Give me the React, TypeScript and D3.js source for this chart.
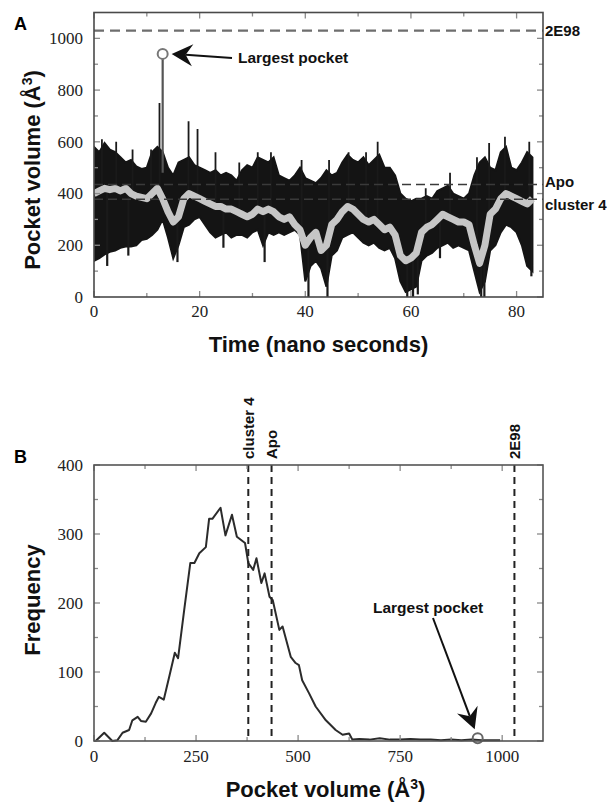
import React from 'react';
import * as d3 from 'd3';

// ---------- Panel A data (pocket volume vs time) ----------
const timeNs = [0,1,2,3,4,5,6,7,8,9,10,11,12,13,14,15,16,17,18,19,20,21,22,23,24,25,26,27,28,29,30,31,32,33,34,35,36,37,38,39,40,41,42,43,44,45,46,47,48,49,50,51,52,53,54,55,56,57,58,59,60,61,62,63,64,65,66,67,68,69,70,71,72,73,74,75,76,77,78,79,80,81,82,83];
const volHigh = [580,560,595,570,560,540,520,530,505,495,500,560,580,560,500,470,520,530,540,510,500,490,480,490,470,480,470,450,490,510,500,540,530,520,540,470,460,450,470,500,460,450,440,460,490,470,480,520,550,530,520,540,510,530,550,500,500,470,400,380,370,380,380,390,380,410,420,430,400,390,380,400,470,520,540,500,490,560,580,500,490,520,560,540];
const volLow = [140,150,165,175,180,190,195,195,200,220,225,240,260,300,230,150,200,270,280,300,310,280,250,230,240,250,230,240,240,230,250,260,200,250,240,250,240,250,260,240,60,120,140,110,40,160,180,230,240,250,230,210,200,210,190,180,190,150,60,20,30,40,140,160,170,190,200,210,190,200,190,180,100,20,60,180,200,250,280,270,250,200,120,100];
const volSmooth = [400,410,420,415,420,410,420,400,390,385,380,400,420,380,330,290,310,380,400,390,380,370,360,350,350,340,340,330,320,310,320,340,330,340,330,310,300,310,280,260,200,230,250,180,200,280,300,330,350,340,320,300,290,300,280,260,270,240,160,140,150,170,250,270,280,300,320,310,300,290,290,280,200,130,200,320,340,380,400,390,380,370,360,380];
const spikeUpT = [1.5,4.2,7.3,10.8,12.4,17.9,19.6,23.0,27.5,31.0,33.5,39.3,44.5,48.2,51.5,53.7,62.8,67.4,72.5,74.8,77.8,82.4];
const spikeUpV = [610,600,570,570,750,680,650,560,520,560,560,530,530,560,560,600,420,480,540,595,620,600];
const spikeDownT = [2.5,6.5,15.8,24.5,32.3,40.6,44.2,59.3,60.4,61.3,65.5,73.3,73.9,82.8];
const spikeDownV = [120,160,135,190,135,0,0,0,0,10,150,0,0,80];
const largestT = 13.0;
const largestVol = 940;

// reference pocket volumes
const refNames = ['2E98', 'Apo', 'cluster 4'];
const refVols = [1030, 435, 378];

// ---------- Panel B data (histogram of pocket volume) ----------
const histVol = [0,4,25,45,57,70,86,94,107,115,127,140,151,159,171,185,198,206,221,236,246,258,274,282,290,310,322,338,350,370,378,390,398,410,418,430,438,454,462,482,494,502,510,527,543,568,592,609,625,633,650,675,700,725,750,775,800,825,850,875,900,925,950,975,995];
const histFreq = [0,0,12,0,1,12,16,30,35,29,28,40,55,64,60,95,128,120,190,258,258,272,281,322,322,338,298,328,296,287,258,248,265,229,243,209,204,161,166,122,113,110,88,69,50,30,16,9,11,2,3,2,4,2,2,3,2,2,1,2,1,2,1,1,1];
const largestFreq = 4;

// ticks
const aXMajor = [0,20,40,60,80];
const aXMinor = [10,30,50,70];
const aYMajor = [0,200,400,600,800,1000];
const aYMinor = [100,300,500,700,900];
const bXMajor = [0,250,500,750,1000];
const bXMinor = [125,375,625,875];
const bYMajor = [0,100,200,300,400];
const bYMinor = [50,150,250,350];

const SANS = '"Liberation Sans", Arial, Helvetica, sans-serif';
const SERIF = '"Liberation Serif", "Times New Roman", serif';

const L = 94, R = 543;
const xA = d3.scaleLinear().domain([0, 85]).range([L, R]);
const yA = d3.scaleLinear().domain([0, 1100]).range([297, 12.5]);
const xB = d3.scaleLinear().domain([0, 1100]).range([L, R]);
const yB = d3.scaleLinear().domain([0, 400]).range([741, 465]);

function Ticks({ xs, ys, xMaj, xMin, yMaj, yMin }: any) {
  const [x0, x1] = xs.range();
  const [y0, y1] = ys.range();
  const col = '#8a8a8a';
  const out: any[] = [];
  const add = (arr: number[], len: number, key: string) => {
    arr.forEach((v, i) => {
      const px = xs(v);
      out.push(<line key={key + 'b' + i} x1={px} x2={px} y1={y0} y2={y0 - len} stroke={col} strokeWidth={1.3} />);
      out.push(<line key={key + 't' + i} x1={px} x2={px} y1={y1} y2={y1 + len} stroke={col} strokeWidth={1.3} />);
    });
  };
  const addY = (arr: number[], len: number, key: string) => {
    arr.forEach((v, i) => {
      const py = ys(v);
      out.push(<line key={key + 'l' + i} x1={x0} x2={x0 + len} y1={py} y2={py} stroke={col} strokeWidth={1.3} />);
      out.push(<line key={key + 'r' + i} x1={x1} x2={x1 - len} y1={py} y2={py} stroke={col} strokeWidth={1.3} />);
    });
  };
  add(xMaj, 6, 'xM');
  add(xMin, 4, 'xm');
  addY(yMaj, 6, 'yM');
  addY(yMin, 4, 'ym');
  return <g>{out}</g>;
}

function Arrow({ x1, y1, x2, y2 }: { x1: number; y1: number; x2: number; y2: number }) {
  const dx = x2 - x1, dy = y2 - y1;
  const len = Math.hypot(dx, dy);
  const ux = dx / len, uy = dy / len;
  const headL = 21, headW = 11, notch = 7;
  const bx = x2 - ux * headL, by = y2 - uy * headL;
  const nx = -uy, ny = ux;
  const cx = x2 - ux * (headL - notch), cy = y2 - uy * (headL - notch);
  const head = `M${x2},${y2} L${bx + nx * headW},${by + ny * headW} L${cx},${cy} L${bx - nx * headW},${by - ny * headW} Z`;
  return (
    <g>
      <line x1={x1} y1={y1} x2={cx} y2={cy} stroke="#111" strokeWidth={2} />
      <path d={head} fill="#111" />
    </g>
  );
}

export default function App() {
  const idx = timeNs.map((_, i) => i);
  const band = d3.area<number>()
    .x(i => xA(timeNs[i]))
    .y0(i => yA(volLow[i]))
    .y1(i => yA(volHigh[i]))
    .curve(d3.curveLinear)(idx) as string;
  const smooth = d3.line<number>()
    .x(i => xA(timeNs[i]))
    .y(i => yA(volSmooth[i]))
    .curve(d3.curveLinear)(idx) as string;
  const smoothAt = (t: number) => volSmooth[Math.min(volSmooth.length - 1, Math.floor(t))];

  const histLine = d3.line<number>()
    .x(i => xB(histVol[i]))
    .y(i => yB(histFreq[i]))(histVol.map((_, i) => i)) as string;

  const cAx = xA(largestT), cAy = yA(largestVol);
  const cBx = xB(largestVol), cBy = yB(largestFreq);

  return (
    <svg width={613} height={802} style={{ position: 'absolute', left: 0, top: 0, background: '#fff' }}>
      <rect x={0} y={0} width={613} height={802} fill="#fff" />

      {/* ================= Panel A ================= */}
      <text x={14} y={30} fontFamily={SANS} fontWeight="bold" fontSize={18}>A</text>
      <defs>
        <clipPath id="clipA"><rect x={L} y={12.5} width={R - L} height={297 - 12.5} /></clipPath>
      </defs>
      <g clipPath="url(#clipA)">
        <path d={band} fill="#141414" stroke="#141414" strokeWidth={2} strokeLinejoin="miter" />
        {spikeUpT.map((t, i) => (
          <line key={'su' + i} x1={xA(t)} x2={xA(t)} y1={yA(smoothAt(t))} y2={yA(spikeUpV[i])} stroke="#1a1a1a" strokeWidth={1.8} />
        ))}
        {spikeDownT.map((t, i) => (
          <line key={'sd' + i} x1={xA(t)} x2={xA(t)} y1={yA(smoothAt(t))} y2={yA(spikeDownV[i])} stroke="#1a1a1a" strokeWidth={2.2} />
        ))}
        <path d={smooth} fill="none" stroke="#c6c6c6" strokeWidth={7} strokeLinejoin="round" />
        <line x1={xA(largestT)} x2={xA(largestT)} y1={yA(smoothAt(largestT) + 100)} y2={cAy + 5} stroke="#555" strokeWidth={2.2} />
        {refVols.map((v, i) => (
          <line key={'ra' + i} x1={L} x2={R} y1={yA(v)} y2={yA(v)}
            stroke={i === 0 ? '#6e6e6e' : '#3a3a3a'} strokeWidth={i === 0 ? 2.2 : 1.6}
            strokeDasharray={i === 0 ? '10,6' : '9,5'} />
        ))}
      </g>
      <circle cx={cAx} cy={cAy} r={5} fill="none" stroke="#777" strokeWidth={2} />
      <Arrow x1={232} y1={58} x2={cAx + 9} y2={cAy} />
      <text x={238} y={63} fontFamily={SANS} fontWeight="bold" fontSize={15.5} fill="#111">Largest pocket</text>
      {refVols.map((v, i) => (
        <text key={'la' + i} x={545} y={yA(v)} dy={i === 2 ? '0.75em' : i === 1 ? '0.15em' : '0.35em'}
          fontFamily={SANS} fontWeight="bold" fontSize={15} fill="#111">{refNames[i]}</text>
      ))}
      <Ticks xs={xA} ys={yA} xMaj={aXMajor} xMin={aXMinor} yMaj={aYMajor} yMin={aYMinor} />
      <rect x={L} y={12.5} width={R - L} height={297 - 12.5} fill="none" stroke="#4a4a4a" strokeWidth={1.6} />
      {aXMajor.map((v, i) => (
        <text key={'ax' + i} x={xA(v)} y={317} textAnchor="middle" fontFamily={SERIF} fontSize={17} fill="#222">{v}</text>
      ))}
      {aYMajor.map((v, i) => (
        <text key={'ay' + i} x={83} y={yA(v)} dy="0.35em" textAnchor="end" fontFamily={SERIF} fontSize={17} fill="#222">{v}</text>
      ))}
      <text x={(L + R) / 2} y={352} textAnchor="middle" fontFamily={SANS} fontWeight="bold" fontSize={22} fill="#111">Time (nano seconds)</text>
      <text transform="translate(40,170) rotate(-90)" textAnchor="middle" fontFamily={SANS} fontWeight="bold" fontSize={22} fill="#111">
        Pocket volume (Å<tspan dy={-8} fontSize={14}>3</tspan><tspan dy={8}>)</tspan>
      </text>

      {/* ================= Panel B ================= */}
      <text x={14} y={463} fontFamily={SANS} fontWeight="bold" fontSize={18}>B</text>
      <path d={histLine} fill="none" stroke="#2b2b2b" strokeWidth={2} strokeLinejoin="round" />
      {refVols.map((v, i) => (
        <g key={'rb' + i}>
          <line x1={xB(v)} x2={xB(v)} y1={465} y2={741} stroke="#222" strokeWidth={2} strokeDasharray="7,5" />
          <text transform={`translate(${xB(v)},459) rotate(-90)`} dy="0.35em" fontFamily={SANS} fontWeight="bold" fontSize={15} fill="#111">{refNames[i]}</text>
        </g>
      ))}
      <circle cx={cBx} cy={cBy} r={5} fill="none" stroke="#666" strokeWidth={2} />
      <Arrow x1={433} y1={618} x2={cBx - 3} y2={cBy - 9} />
      <text x={373} y={613} fontFamily={SANS} fontWeight="bold" fontSize={15.5} fill="#111">Largest pocket</text>
      <Ticks xs={xB} ys={yB} xMaj={bXMajor} xMin={bXMinor} yMaj={bYMajor} yMin={bYMinor} />
      <rect x={L} y={465} width={R - L} height={741 - 465} fill="none" stroke="#555" strokeWidth={1.6} />
      {bXMajor.map((v, i) => (
        <text key={'bx' + i} x={xB(v)} y={762} textAnchor="middle" fontFamily={SERIF} fontSize={17} fill="#222">{v}</text>
      ))}
      {bYMajor.map((v, i) => (
        <text key={'by' + i} x={83} y={yB(v)} dy="0.35em" textAnchor="end" fontFamily={SERIF} fontSize={17} fill="#222">{v}</text>
      ))}
      <text x={(L + R) / 2 + 7} y={797} textAnchor="middle" fontFamily={SANS} fontWeight="bold" fontSize={22} fill="#111">
        Pocket volume (Å<tspan dy={-8} fontSize={14}>3</tspan><tspan dy={8}>)</tspan>
      </text>
      <text transform="translate(40,600) rotate(-90)" textAnchor="middle" fontFamily={SANS} fontWeight="bold" fontSize={22} fill="#111">Frequency</text>
    </svg>
  );
}
